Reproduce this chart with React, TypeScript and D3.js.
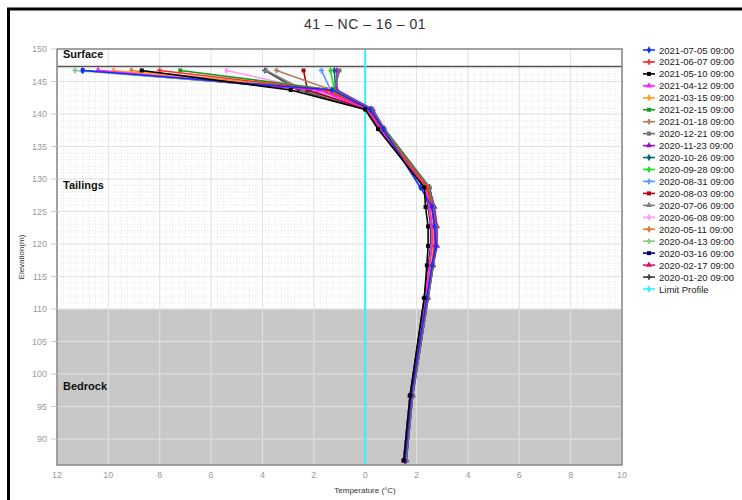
import React from "react";
import * as d3 from "d3";

const title = "41 – NC – 16 – 01";
const elevations = [146.7, 143.7, 140.7, 137.7, 128.7, 125.7, 122.7, 119.7, 116.7, 111.7, 96.7, 86.7];

const seriesNames = [
  "2021-07-05 09:00", "2021-06-07 09:00", "2021-05-10 09:00", "2021-04-12 09:00",
  "2021-03-15 09:00", "2021-02-15 09:00", "2021-01-18 09:00", "2020-12-21 09:00",
  "2020-11-23 09:00", "2020-10-26 09:00", "2020-09-28 09:00", "2020-08-31 09:00",
  "2020-08-03 09:00", "2020-07-06 09:00", "2020-06-08 09:00", "2020-05-11 09:00",
  "2020-04-13 09:00", "2020-03-16 09:00", "2020-02-17 09:00", "2020-01-20 09:00",
];
const seriesColors = [
  "#1030ff", "#ff2a2a", "#000000", "#ff20ff", "#ffa020", "#1a9a1a", "#b08060", "#707070",
  "#9a10d0", "#006a70", "#22dd22", "#5a9aff", "#b00010", "#808080", "#ff9cff", "#e07830",
  "#88c888", "#000080", "#e0106a", "#404040",
];
const seriesSymbols = [
  "diamond", "cross", "square", "triangle", "diamond", "square", "cross", "square",
  "triangle", "diamond", "diamond", "cross", "square", "triangle", "diamond", "diamond",
  "cross", "square", "triangle", "cross",
];
const t2107 = [-11.0, -1.3, 0.2, 0.7, 2.15, 2.6, 2.7, 2.75, 2.6, 2.4, 1.8, 1.55];
const t2106 = [-8.0, -1.5, 0.15, 0.65, 2.4, 2.6, 2.7, 2.7, 2.6, 2.4, 1.8, 1.55];
const t2105 = [-8.7, -2.9, 0.0, 0.5, 2.3, 2.35, 2.45, 2.45, 2.4, 2.3, 1.75, 1.5];
const t2104 = [-10.4, -1.8, 0.1, 0.6, 2.35, 2.5, 2.6, 2.6, 2.5, 2.35, 1.75, 1.5];
const t2103 = [-9.8, -1.4, 0.15, 0.65, 2.4, 2.55, 2.65, 2.65, 2.55, 2.4, 1.8, 1.55];
const t2102 = [-7.2, -1.25, 0.2, 0.7, 2.45, 2.6, 2.7, 2.7, 2.6, 2.4, 1.8, 1.55];
const t2101 = [-3.45, -1.3, 0.2, 0.7, 2.45, 2.6, 2.7, 2.7, 2.6, 2.4, 1.8, 1.55];
const t2012 = [-1.0, -1.2, 0.25, 0.75, 2.5, 2.65, 2.75, 2.75, 2.65, 2.45, 1.85, 1.6];
const t2011 = [-1.1, -1.1, 0.3, 0.75, 2.5, 2.7, 2.8, 2.8, 2.65, 2.45, 1.85, 1.6];
const t2010 = [-1.2, -1.15, 0.25, 0.75, 2.5, 2.65, 2.75, 2.75, 2.65, 2.45, 1.85, 1.6];
const t2009 = [-1.35, -1.2, 0.25, 0.7, 2.5, 2.65, 2.75, 2.75, 2.6, 2.45, 1.85, 1.6];
const t2008b = [-1.7, -1.35, 0.2, 0.7, 2.45, 2.6, 2.7, 2.7, 2.6, 2.4, 1.8, 1.55];
const t2008a = [-2.4, -2.25, 0.1, 0.6, 2.4, 2.55, 2.65, 2.65, 2.55, 2.4, 1.8, 1.55];
const t2007 = [-3.85, -2.4, 0.1, 0.6, 2.4, 2.55, 2.6, 2.6, 2.5, 2.35, 1.75, 1.5];
const t2006 = [-5.4, -2.0, 0.1, 0.6, 2.35, 2.5, 2.6, 2.6, 2.5, 2.35, 1.75, 1.5];
const t2005 = [-9.1, -1.6, 0.15, 0.6, 2.4, 2.55, 2.65, 2.65, 2.55, 2.4, 1.8, 1.55];
const t2004 = [-11.3, -1.5, 0.15, 0.65, 2.4, 2.55, 2.65, 2.65, 2.55, 2.4, 1.8, 1.55];
const t2003 = [-11.0, -1.7, 0.1, 0.6, 2.35, 2.55, 2.65, 2.65, 2.55, 2.35, 1.75, 1.5];
const t2002 = [-10.4, -2.1, 0.05, 0.55, 2.35, 2.5, 2.6, 2.6, 2.5, 2.35, 1.75, 1.5];
const t2001 = [-3.9, -2.6, 0.05, 0.55, 2.3, 2.45, 2.55, 2.55, 2.45, 2.3, 1.75, 1.5];
const seriesTemps = [t2107, t2106, t2105, t2104, t2103, t2102, t2101, t2012, t2011, t2010,
  t2009, t2008b, t2008a, t2007, t2006, t2005, t2004, t2003, t2002, t2001];

const limitTemp = 0;
const xTicks = [-12, -10, -8, -6, -4, -2, 0, 2, 4, 6, 8, 10];
const yTicks = [90, 95, 100, 105, 110, 115, 120, 125, 130, 135, 140, 145, 150];
const surfaceElev = 147.3;
const bedrockElev = 110;
const zoneLabels = [
  { text: "Surface", elev: 148.6 },
  { text: "Tailings", elev: 128.4 },
  { text: "Bedrock", elev: 97.6 },
];

const symbolMap: Record<string, d3.SymbolType> = {
  diamond: d3.symbolDiamond,
  cross: d3.symbolCross,
  square: d3.symbolSquare,
  triangle: d3.symbolTriangle,
};

export default function App() {
  const W = 742, H = 500;
  const x = d3.scaleLinear().domain([-12, 10]).range([57, 622]);
  const y = d3.scaleLinear().domain([86, 150]).range([465, 49]);
  const [x0, x1] = x.range();
  const [yb, yt] = y.range();
  const font = "'Liberation Sans', Arial, sans-serif";

  const minorX = d3.range(-12, 10.001, 0.25);
  const minorY = d3.range(86, 150.001, 1);

  const line = d3.line<[number, number]>().x((d) => x(d[0])).y((d) => y(d[1]));

  const order = d3.range(seriesNames.length).reverse().filter((i) => i !== 2).concat([2]);

  return (
    <svg width={W} height={H} style={{ position: "absolute", left: 0, top: 0, background: "#fff" }} fontFamily={font}>
      <rect x={8.5} y={9} width={800} height={600} fill="none" stroke="#000" strokeWidth={3} />
      <text x={365} y={29} textAnchor="middle" fontSize={14} fill="#333" letterSpacing={0.5}>{title}</text>

      {/* plot background */}
      <rect x={x0} y={yt} width={x1 - x0} height={yb - yt} fill="#fff" />
      {/* minor dotted grid in tailings */}
      <g stroke="#cfcfcf" strokeWidth={0.6} strokeDasharray="1,2.2">
        {minorX.map((v, i) => (
          <line key={"mx" + i} x1={x(v)} x2={x(v)} y1={y(surfaceElev)} y2={y(bedrockElev)} />
        ))}
        {minorY.filter((v) => v > bedrockElev && v < surfaceElev).map((v, i) => (
          <line key={"my" + i} x1={x0} x2={x1} y1={y(v)} y2={y(v)} />
        ))}
      </g>
      {/* bedrock */}
      <rect x={x0} y={y(bedrockElev)} width={x1 - x0} height={yb - y(bedrockElev)} fill="#c8c8c8" />
      {/* major grid */}
      <g stroke="#e2e2e2" strokeWidth={1}>
        {xTicks.map((v) => (
          <line key={"gx" + v} x1={x(v)} x2={x(v)} y1={yt} y2={yb} />
        ))}
        {yTicks.map((v) => (
          <line key={"gy" + v} x1={x0} x2={x1} y1={y(v)} y2={y(v)} />
        ))}
      </g>
      {/* surface line */}
      <line x1={x0} x2={x1} y1={y(surfaceElev)} y2={y(surfaceElev)} stroke="#555" strokeWidth={1.5} />
      {/* limit profile */}
      <line x1={x(limitTemp)} x2={x(limitTemp)} y1={yt} y2={yb} stroke="#33f0ff" strokeWidth={2} />

      {/* zone labels */}
      {zoneLabels.map((z) => (
        <text key={z.text} x={x0 + 6} y={y(z.elev)} fontSize={11} fontWeight="bold" fill="#111">{z.text}</text>
      ))}

      {/* series */}
      {order.map((i) => {
        const pts: [number, number][] = seriesTemps[i].map((t, k) => [t, elevations[k]]);
        const sym = d3.symbol().type(symbolMap[seriesSymbols[i]]).size(16)();
        return (
          <g key={seriesNames[i]}>
            <path d={line(pts) || ""} fill="none" stroke={seriesColors[i]} strokeWidth={1.6} />
            {pts.map((p, k) => (
              <path key={k} d={sym || ""} transform={`translate(${x(p[0])},${y(p[1])})`} fill={seriesColors[i]} />
            ))}
          </g>
        );
      })}

      {/* plot border */}
      <rect x={x0} y={yt} width={x1 - x0} height={yb - yt} fill="none" stroke="#888" strokeWidth={1.5} />

      {/* y axis */}
      {yTicks.map((v) => (
        <g key={"yt" + v}>
          <line x1={x0 - 6} x2={x0} y1={y(v)} y2={y(v)} stroke="#ccc" />
          <text x={x0 - 10} y={y(v) + 3} textAnchor="end" fontSize={9} fill="#999">{v}</text>
        </g>
      ))}
      <text transform={`translate(24,${(yt + yb) / 2}) rotate(-90)`} textAnchor="middle" fontSize={8} fill="#333">Elevation(m)</text>

      {/* x axis */}
      {xTicks.map((v) => (
        <text key={"xt" + v} x={x(v)} y={478} textAnchor="middle" fontSize={9} fill="#999">{Math.abs(v)}</text>
      ))}
      <text x={365} y={493} textAnchor="middle" fontSize={8} fill="#333">Temperature (°C)</text>

      {/* legend */}
      {seriesNames.concat(["Limit Profile"]).map((name, i) => {
        const ly = 50 + i * 11.95;
        const col = i < seriesColors.length ? seriesColors[i] : "#33f0ff";
        const sym = d3.symbol().type(i < seriesSymbols.length ? symbolMap[seriesSymbols[i]] : d3.symbolDiamond).size(16)();
        return (
          <g key={"lg" + i}>
            <line x1={643} x2={655} y1={ly} y2={ly} stroke={col} strokeWidth={1.6} />
            <path d={sym || ""} transform={`translate(649,${ly})`} fill={col} />
            <text x={659} y={ly + 3.5} fontSize={9.5} fill="#222">{name}</text>
          </g>
        );
      })}
    </svg>
  );
}
